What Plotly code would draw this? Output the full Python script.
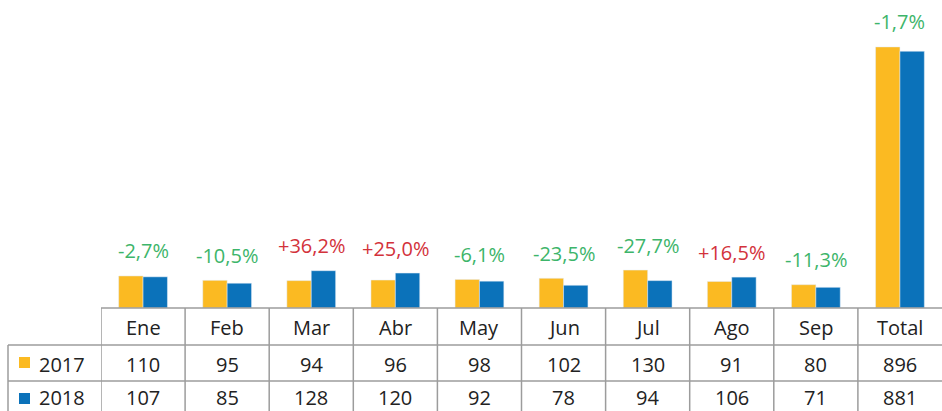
import plotly.graph_objects as go

categories = ["Ene", "Feb", "Mar", "Abr", "May", "Jun", "Jul", "Ago", "Sep", "Total"]
values_2017 = [110, 95, 94, 96, 98, 102, 130, 91, 80, 896]
values_2018 = [107, 85, 128, 120, 92, 78, 94, 106, 71, 881]
change_labels = ["-2,7%", "-10,5%", "+36,2%", "+25,0%", "-6,1%", "-23,5%", "-27,7%", "+16,5%", "-11,3%", "-1,7%"]
series_names = ["2017", "2018"]

W, H = 942, 411
C17 = "#FBBA22"
C18 = "#0B72BA"
GREEN = "#3DB56A"
RED = "#D3323B"
GRID = "#9C9C9C"
TXT = "#222222"
FONT = "Open Sans"
FS = 20

def py(p):
    return 1 - p / H

fig = go.Figure()
fig.add_bar(x=categories, y=values_2017, name=series_names[0], marker_color=C17)
fig.add_bar(x=categories, y=values_2018, name=series_names[1], marker_color=C18)

annotations = []
for i, c in enumerate(categories):
    top = max(values_2017[i], values_2018[i])
    col = RED if change_labels[i].startswith("+") else GREEN
    annotations.append(dict(x=c, y=top, xref="x", yref="y", text=change_labels[i],
                            showarrow=False, yanchor="middle", yshift=25,
                            font=dict(family=FONT, size=FS, color=col)))
    annotations.append(dict(x=c, y=py(327), xref="x", yref="paper", text=c,
                            showarrow=False, yanchor="middle",
                            font=dict(family=FONT, size=FS, color=TXT)))
    annotations.append(dict(x=c, y=py(364), xref="x", yref="paper", text=str(values_2017[i]),
                            showarrow=False, yanchor="middle",
                            font=dict(family=FONT, size=FS, color=TXT)))
    annotations.append(dict(x=c, y=py(397), xref="x", yref="paper", text=str(values_2018[i]),
                            showarrow=False, yanchor="middle", borderpad=0,
                            font=dict(family=FONT, size=FS, color=TXT)))

for name, yc in zip(series_names, [364, 397]):
    annotations.append(dict(x=38 / W, y=py(yc), xref="paper", yref="paper", text=name,
                            showarrow=False, xanchor="left", yanchor="middle", borderpad=0,
                            font=dict(family=FONT, size=FS, color=TXT)))

shapes = []
line = dict(color=GRID, width=1.5)
shapes.append(dict(type="line", xref="paper", yref="paper", x0=101 / W, x1=1, y0=py(308), y1=py(308), line=line))
for yy in [345, 381]:
    shapes.append(dict(type="line", xref="paper", yref="paper", x0=8 / W, x1=1, y0=py(yy), y1=py(yy), line=line))
shapes.append(dict(type="line", xref="paper", yref="paper", x0=8 / W, x1=8 / W, y0=py(345), y1=0, line=line))
for k in range(len(categories)):
    xb = k - 0.5
    shapes.append(dict(type="line", xref="x", yref="paper", x0=xb, x1=xb, y0=py(308), y1=0, line=line))
for col, (y0, y1) in zip([C17, C18], [(357, 368), (393, 404)]):
    shapes.append(dict(type="rect", xref="paper", yref="paper", x0=19 / W, x1=30 / W,
                       y0=py(y1), y1=py(y0), fillcolor=col, line=dict(width=0)))

fig.update_layout(
    width=W, height=H,
    margin=dict(l=0, r=0, t=0, b=0),
    paper_bgcolor="white", plot_bgcolor="white",
    barmode="group", bargap=0.42, bargroupgap=0,
    showlegend=False,
    xaxis=dict(domain=[101 / W, 1], range=[-0.5, len(categories) - 0.5],
               showticklabels=False, showgrid=False, zeroline=False, showline=False, ticks=""),
    yaxis=dict(domain=[py(308), 1], range=[0, 1057],
               showticklabels=False, showgrid=False, zeroline=False, showline=False, ticks=""),
    annotations=annotations,
    shapes=shapes,
)

fig.write_html("out.html", config={"displayModeBar": False},
               post_script="document.body.style.margin='0';document.body.style.overflow='hidden';")
